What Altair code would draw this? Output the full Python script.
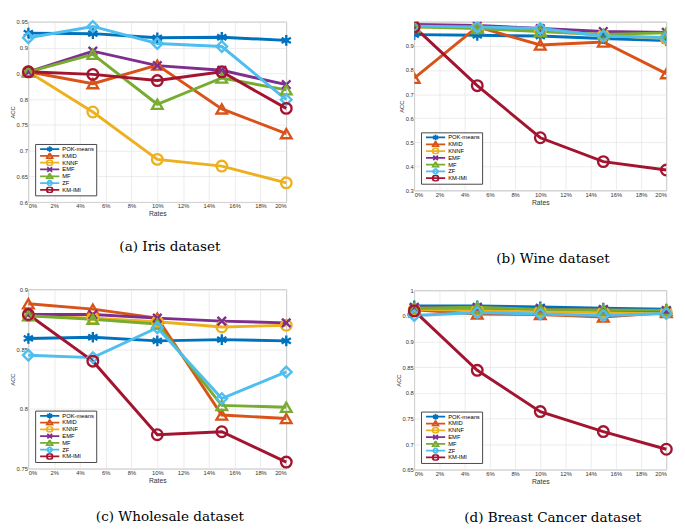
import altair as alt
import pandas as pd

rates = [0, 5, 10, 15, 20]
methods = ["POK-means", "KMID", "KNNF", "EMF", "MF", "ZF", "KM-IMI"]
colors = ["#0072BD", "#D95319", "#EDB120", "#7E2F8E", "#77AC30", "#4DBEEE", "#A2142F"]

iris_acc = {
    "POK-means": [0.928, 0.927, 0.919, 0.920, 0.914],
    "KMID": [0.853, 0.830, 0.866, 0.781, 0.733],
    "KNNF": [0.853, 0.775, 0.683, 0.670, 0.6375],
    "EMF": [0.853, 0.893, 0.865, 0.856, 0.828],
    "MF": [0.853, 0.887, 0.790, 0.841, 0.818],
    "ZF": [0.919, 0.941, 0.908, 0.902, 0.799],
    "KM-IMI": [0.853, 0.848, 0.836, 0.853, 0.782],
}
wine_acc = {
    "POK-means": [0.947, 0.944, 0.941, 0.931, 0.922],
    "KMID": [0.766, 0.979, 0.904, 0.916, 0.785],
    "KNNF": [0.979, 0.975, 0.962, 0.944, 0.931],
    "EMF": [0.989, 0.985, 0.972, 0.960, 0.956],
    "MF": [0.979, 0.972, 0.960, 0.948, 0.954],
    "ZF": [0.982, 0.979, 0.972, 0.941, 0.935],
    "KM-IMI": [0.979, 0.735, 0.519, 0.420, 0.385],
}
wholesale_acc = {
    "POK-means": [0.859, 0.860, 0.857, 0.858, 0.857],
    "KMID": [0.888, 0.8835, 0.876, 0.795, 0.792],
    "KNNF": [0.878, 0.876, 0.873, 0.8686, 0.870],
    "EMF": [0.879, 0.879, 0.876, 0.8735, 0.872],
    "MF": [0.878, 0.875, 0.871, 0.803, 0.8015],
    "ZF": [0.845, 0.843, 0.868, 0.8087, 0.831],
    "KM-IMI": [0.879, 0.840, 0.7785, 0.781, 0.7556],
}
breast_acc = {
    "POK-means": [0.9697, 0.9697, 0.9678, 0.9653, 0.9634],
    "KMID": [0.962, 0.954, 0.953, 0.948, 0.957],
    "KNNF": [0.963, 0.961, 0.959, 0.957, 0.958],
    "EMF": [0.966, 0.966, 0.964, 0.962, 0.960],
    "MF": [0.965, 0.967, 0.963, 0.962, 0.961],
    "ZF": [0.951, 0.957, 0.954, 0.951, 0.955],
    "KM-IMI": [0.960, 0.844, 0.7635, 0.7245, 0.690],
}

ASTER = "M0,-1L0,1M-0.87,-0.5L0.87,0.5M-0.87,0.5L0.87,-0.5"
XMARK = "M-0.8,-0.8L0.8,0.8M-0.8,0.8L0.8,-0.8"
TRI = "M0,-1L1,0.75L-1,0.75Z"
CIRC = "M1,0A1,1 0 1,1 -1,0A1,1 0 1,1 1,0Z"
DIAM = "M0,-1.1L1,0L0,1.1L-1,0Z"
plot_shapes = [ASTER, "triangle-up", "circle", XMARK, "triangle-up", "diamond", "circle"]
LINE = "M-3.3,0L3.3,0"
legend_shapes = [LINE + s for s in [ASTER, TRI, CIRC, XMARK, TRI, DIAM, CIRC]]

FONT = "Liberation Sans"


def panel(acc, caption, ydomain, yticks, width, height, cap_offset, clip=False):
    rows = [{"rate": r, "method": m, "acc": v}
            for m in methods for r, v in zip(rates, acc[m])]
    df = pd.DataFrame(rows)
    base = alt.Chart(df)
    xscale = alt.Scale(domain=[0, 20], nice=False, zero=False)
    yscale = alt.Scale(domain=ydomain, nice=False, zero=False)
    xaxis = alt.Axis(orient="bottom", values=list(range(0, 21, 2)), labelExpr="datum.value + '%'",
                     title="Rates",
                     labelFont=FONT, labelFontSize=6, labelColor="#333333", labelPadding=1,
                     titleFont=FONT, titleFontSize=7, titleFontWeight="normal", titleColor="#333333",
                     titlePadding=1, ticks=False, domain=False, gridColor="#e3e3e3", gridWidth=0.7)
    yaxis = alt.Axis(values=yticks, format=".2~f", title="ACC",
                     labelFont=FONT, labelFontSize=6, labelColor="#333333", labelPadding=1,
                     titleFont=FONT, titleFontSize=6, titleFontWeight="normal", titleColor="#333333",
                     titlePadding=1, ticks=False, domain=False, gridColor="#e3e3e3", gridWidth=0.7)
    y = alt.Y("acc:Q", scale=yscale, axis=yaxis)
    sscale = alt.Scale(domain=methods, range=colors)

    lines = base.mark_line(strokeWidth=3, clip=clip).encode(
        x=alt.X("rate:Q", scale=xscale, axis=xaxis), y=y,
        stroke=alt.Stroke("method:N", scale=sscale, legend=None))
    point_layers = [
        base.transform_filter(alt.datum.method == m).mark_point(
            shape=shp, filled=False, strokeWidth=2.4, size=120, opacity=1, clip=clip).encode(
            x=alt.X("rate:Q", scale=xscale, axis=None), y=y,
            stroke=alt.Stroke("method:N", scale=sscale, legend=None))
        for m, shp in zip(methods, plot_shapes)
    ]

    leg = alt.Legend(title=None, orient="bottom-left", offset=7,
                     labelFont=FONT, labelFontSize=6, symbolOpacity=1,
                     labelColor="#000000", symbolSize=36, symbolStrokeWidth=1.8, symbolOffset=9,
                     labelOffset=9, rowPadding=0, padding=2, clipHeight=6.6,
                     strokeColor="#444444", fillColor="#ffffff", cornerRadius=0, labelLimit=80)
    legend_layer = base.mark_point(
        filled=False, size=36, strokeWidth=1.8, opacity=0, clip=True).encode(
        x=alt.X("rate:Q", scale=xscale, axis=None), y=y,
        color=alt.Color("method:N", scale=alt.Scale(domain=methods, range=colors), legend=leg),
        shape=alt.Shape("method:N", scale=alt.Scale(domain=methods, range=legend_shapes), legend=leg),
    )

    layer = alt.layer(lines, *point_layers, legend_layer).resolve_axis(
        x="independent").resolve_scale(color="independent", shape="independent")
    return layer.properties(
        width=width, height=height,
        title=alt.TitleParams(caption, orient="bottom", anchor="middle", frame="group",
                              font="DejaVu Serif", fontSize=14, fontWeight="normal",
                              color="#000000", offset=cap_offset, dx=13))


a = panel(iris_acc, "(a) Iris dataset", [0.6, 0.95],
          [0.6, 0.65, 0.7, 0.75, 0.8, 0.85, 0.9, 0.95], 266, 186, 24)
b = panel(wine_acc, "(b) Wine dataset", [0.3, 1.0],
          [0.3, 0.4, 0.5, 0.6, 0.7, 0.8, 0.9], 260, 174, 49, clip=True)
c = panel(wholesale_acc, "(c) Wholesale dataset", [0.75, 0.9],
          [0.75, 0.8, 0.85, 0.9], 266, 185, 28)
d = panel(breast_acc, "(d) Breast Cancer dataset", [0.65, 1.0],
          [0.65, 0.7, 0.75, 0.8, 0.85, 0.9, 0.95, 1.0], 260, 185, 28)

left = alt.vconcat(a, c, spacing=32)
right = alt.vconcat(b, d, spacing=20)
chart = alt.hconcat(left, right, spacing=100).properties(padding=0).configure_view(
    stroke="#a6a6a6", strokeWidth=0.8)

chart.save("out.html", embed_options={"renderer": "svg", "actions": False})
